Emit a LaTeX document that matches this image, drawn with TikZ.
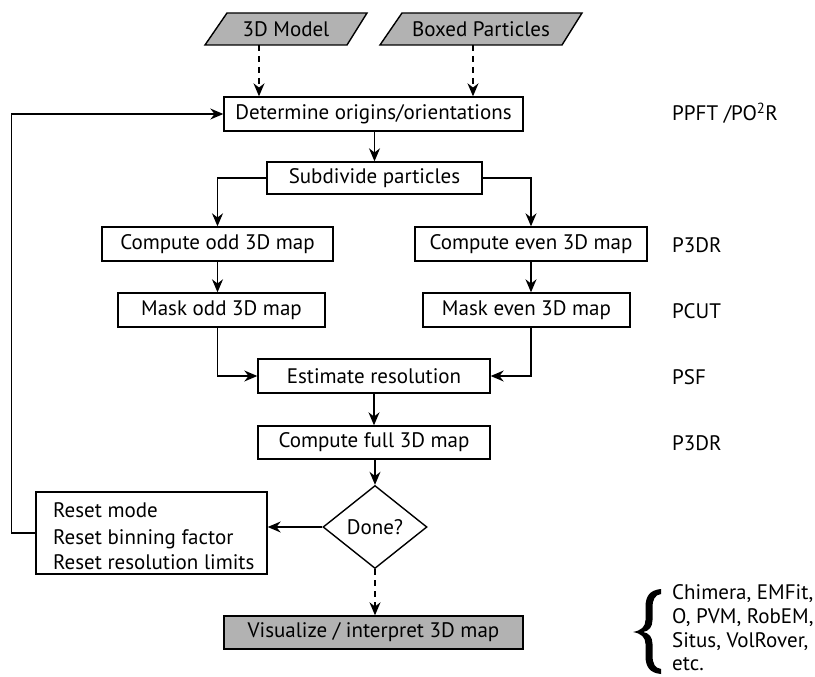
\documentclass[tikz,border=0pt]{standalone}
\usepackage{fontspec}
\setmainfont{PT Sans}
\usetikzlibrary{arrows.meta,shapes.geometric}
\definecolor{boxgray}{RGB}{178,178,178}
\begin{document}
\begin{tikzpicture}[x=1pt,y=-1pt,
  every node/.style={font=\fontsize{21}{24}\selectfont, inner sep=0pt},
  box/.style={draw, line width=1.4pt, minimum height=34pt, align=center},
  lbl/.style={anchor=west},
  tl/.style={anchor=base west},
  arr/.style={line width=1.4pt, -{Stealth[length=13pt,width=11pt]}},
  darr/.style={arr, dash pattern=on 6pt off 5pt},
]
\useasboundingbox (0,0) rectangle (815,677);
% input parallelograms
\fill[boxgray] (205,45) -- (227,13) -- (367,13) -- (347,45) -- cycle;
\draw[line width=1.4pt] (205,45) -- (227,13) -- (367,13) -- (347,45) -- cycle;
\node (model) at (286,29) {3D Model};
\fill[boxgray] (380,45) -- (402,13) -- (582,13) -- (562,45) -- cycle;
\draw[line width=1.4pt] (380,45) -- (402,13) -- (582,13) -- (562,45) -- cycle;
\node (boxed) at (481,29) {Boxed Particles};
\coordinate (mfoot) at (259,45);
\coordinate (bfoot) at (473,45);
% boxes
\node[box, minimum width=299pt] (det) at (373.5,114) {Determine origins/orientations};
\node[box, minimum width=215pt, minimum height=32pt] (sub) at (374.5,178) {Subdivide particles};
\node[box, minimum width=231pt] (codd) at (217.5,244) {Compute odd 3D map};
\node[box, minimum width=232pt] (ceven) at (531,244) {Compute even 3D map};
\node[box, minimum width=207pt] (modd) at (221.5,310) {Mask odd 3D map};
\node[box, minimum width=207pt] (meven) at (526.5,310) {Mask even 3D map};
\node[box, minimum width=232pt] (est) at (374,376) {Estimate resolution};
\node[box, minimum width=232pt, minimum height=33pt] (full) at (374,442.5) {Compute full 3D map};
\node[draw, line width=1.4pt, diamond, minimum width=104pt, minimum height=83pt] (done) at (375,527) {Done?};
\node[box, minimum width=231pt, minimum height=82pt] (reset) at (151.5,533) {};
\node[tl] (r1) at (53,517) {Reset mode};
\node[tl] (r2) at (53,544) {Reset binning factor};
\node[tl] (r3) at (53,569) {Reset resolution limits};
\node[box, fill=boxgray, minimum width=299pt, minimum height=33pt] (vis) at (373.5,632.5) {Visualize / interpret 3D map};
% right labels
\node[lbl] (l1) at (672,113) {PPFT /PO\textsuperscript{2}R};
\node[lbl] (l2) at (672,245) {P3DR};
\node[lbl] (l3) at (672,311) {PCUT};
\node[lbl] (l4) at (672,377) {PSF};
\node[lbl] (l5) at (672,443) {P3DR};
\node[tl] (t1) at (672,599) {Chimera, EMFit,};
\node[tl] (t2) at (672,623) {O, PVM, RobEM,};
\node[tl] (t3) at (672,647) {Situs, VolRover,};
\node[tl] (t4) at (672,670) {etc.};
% brace
\fill (661,589) .. controls (650,590) and (645.5,596) .. (645.5,607)
  -- (645.5,620) .. controls (645.5,627) and (641,630.5) .. (633,632)
  .. controls (641,633.5) and (645.5,637) .. (645.5,644)
  -- (645.5,656) .. controls (645.5,667) and (650,673) .. (661,674)
  -- (661,669) .. controls (655,668) and (652.5,664) .. (652.5,655)
  -- (652.5,644) .. controls (652.5,637) and (649,633) .. (643,632)
  .. controls (649,631) and (652.5,627) .. (652.5,620)
  -- (652.5,608) .. controls (652.5,599) and (655,595) .. (661,594) -- cycle;
% connectors
\draw[darr] (mfoot) -- (det.north -| mfoot);
\draw[darr] (bfoot) -- (det.north -| bfoot);
\draw[arr] (det.south -| sub.north) -- (sub.north);
\draw[arr] (sub.west) -| (codd.north);
\draw[arr] (sub.east) -| (ceven.north);
\draw[arr] (codd.south) -- (modd.north -| codd.south);
\draw[arr] (ceven.south) -- (meven.north -| ceven.south);
\draw[arr] (modd.south -| codd.south) |- (est.west);
\draw[arr] (meven.south -| ceven.south) |- (est.east);
\draw[arr] (est.south) -- (full.north);
\draw[arr] (full.south -| done.north) -- (done.north);
\draw[arr] (done.west) -- (done.west -| reset.east);
\draw[arr] (reset.west) -- ++(-24,0) |- (det.west);
\draw[darr] (done.south) -- (vis.north -| done.south);
\end{tikzpicture}
\end{document}
